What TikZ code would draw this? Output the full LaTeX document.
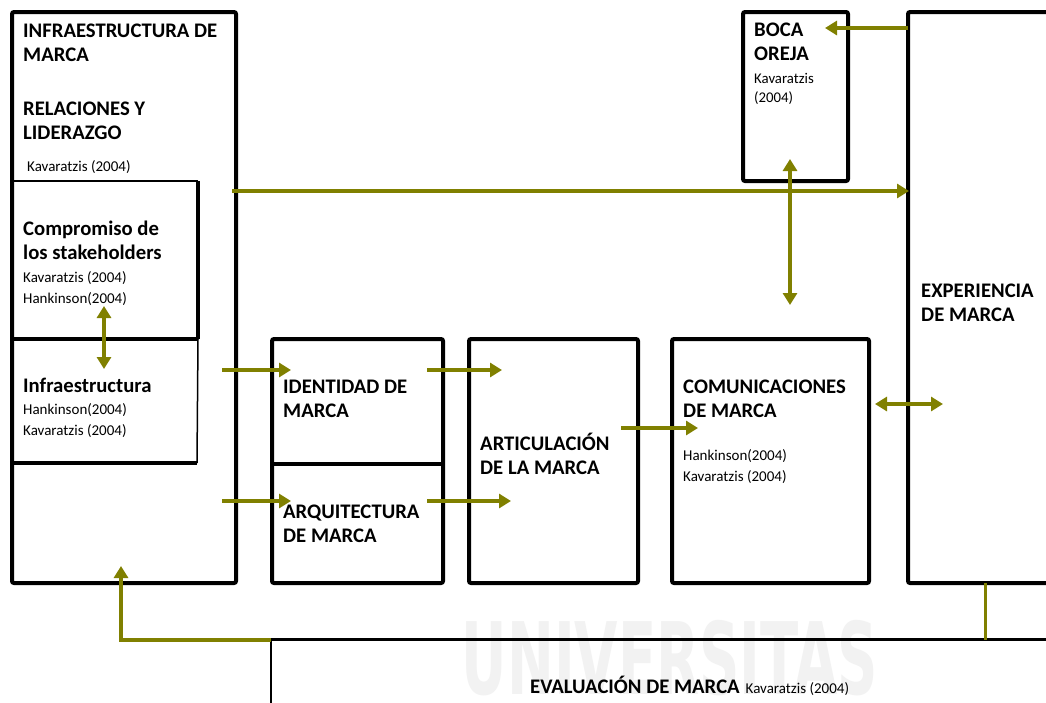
\documentclass[tikz,border=0pt]{standalone}
\usepackage{fontspec}
\setmainfont{Carlito}
\newfontfamily\markfont{DejaVu Sans}
\usetikzlibrary{arrows.meta}
\definecolor{olivec}{RGB}{128,128,0}
\tikzset{
  box/.style={draw, line width=4pt, rounded corners=2pt, inner sep=0pt, outer sep=0pt, anchor=north west},
  lbl/.style={anchor=north west, inner sep=0pt, align=left, font=\bfseries\fontsize{20.7}{24}\selectfont},
  refs/.style={anchor=north west, inner sep=0pt, align=left, font=\fontsize{15}{21.5}\selectfont},
  link/.style={draw=olivec, line width=4pt, -{Triangle[length=12pt,width=14pt]}},
  biglink/.style={draw=olivec, line width=4pt, {Triangle[length=12pt,width=14pt]}-{Triangle[length=12pt,width=14pt]}},
  plain/.style={draw=olivec, line width=3pt},
}
\newcommand{\tl}{\rule{0pt}{18pt}}
\newcommand{\ts}{\rule{0pt}{14pt}}
\begin{document}
\begin{tikzpicture}[x=1pt,y=-1pt]
\useasboundingbox (0,0) rectangle (1046,702);
\fill[white] (0,0) rectangle (1046,702);

% faint watermark behind the lower band
\node[anchor=base, xscale=0.56, text=black!5, inner sep=0pt, text depth=0pt,
      font=\markfont\bfseries\fontsize{100}{100}\selectfont] (mark) at (670,694) {UNIVERSITAS};

% frames
\node[box, minimum width=224pt, minimum height=571pt] (infra) at (12,12) {};
\node[box, minimum width=171pt, minimum height=244pt] (idarq) at (272,339) {};
\node[box, minimum width=169pt, minimum height=244pt] (artic) at (469,339) {};
\node[box, minimum width=197pt, minimum height=244pt] (comun) at (672,339) {};
\node[box, minimum width=105pt, minimum height=169pt] (boca) at (743,12) {};
\coordinate (expTR) at (1050,12);
\coordinate (expBR) at (1050,583);
\draw[line width=4pt, rounded corners=2pt] (expTR) -- (908,12) coordinate (expTL) -- (908,583) coordinate (expBL) -- (expBR);

% split of identity / architecture
\draw[line width=4pt] (idarq.west |- 0,464) coordinate (splitL) -- (idarq.east |- 0,464) coordinate (splitR);

% stakeholder and infrastructure sub-panels
\coordinate (cTL) at (12,181);
\coordinate (cTR) at (198,181);
\coordinate (cBR) at (198,339);
\coordinate (iBR) at (197,463);
\coordinate (iBL) at (12,463);
\draw[line width=1.5pt] (cTL) -- (cTR);
\draw[line width=4pt] (cTR) -- (cBR);
\draw[line width=4pt] (12,339) -- (cBR);
\draw[line width=1.5pt] (cBR) -- (iBR);
\draw[line width=4pt] (iBL) -- (iBR);

% evaluation band
\coordinate (evTR) at (1050,639);
\coordinate (evTL) at (271,639);
\coordinate (evBL) at (271,704);
\draw[line width=3pt] (evTR) -- (evTL);
\draw[line width=2pt] (evTL) -- (evBL);

% texts
\node[lbl] (t1) at (23,19) {\tl INFRAESTRUCTURA DE\\MARCA};
\node[lbl] (t2) at (23,97) {\tl RELACIONES Y\\LIDERAZGO};
\node[refs] (r1) at (27,157) {\ts Kavaratzis (2004)};
\node[lbl] (t3) at (23,217) {\tl Compromiso de\\los stakeholders};
\node[refs] (r2) at (23,268) {\ts Kavaratzis (2004)\\Hankinson(2004)};
\node[lbl] (t4) at (23,374) {\tl Infraestructura};
\node[refs] (r3) at (23,400) {\ts Hankinson(2004)\\Kavaratzis (2004)};
\node[lbl] (t5) at (283,375) {\tl IDENTIDAD DE\\MARCA};
\node[lbl] (t6) at (283,500) {\tl ARQUITECTURA\\DE MARCA};
\node[lbl] (t7) at (480,432) {\tl ARTICULACIÓN\\DE LA MARCA};
\node[lbl] (t8) at (683,375) {\tl COMUNICACIONES\\DE MARCA};
\node[refs] (r4) at (683,446) {\ts Hankinson(2004)\\Kavaratzis (2004)};
\node[lbl] (t9) at (754,18) {\tl BOCA\\OREJA};
\node[refs, font=\fontsize{14.8}{19}\selectfont] (r5) at (754,69) {\ts Kavaratzis\\(2004)};
\node[lbl] (t10) at (921,279) {\tl EXPERIENCIA\\DE MARCA};
\node[anchor=base west, inner sep=0pt] (t11) at (530,693)
  {{\bfseries\fontsize{20.7}{24}\selectfont EVALUACIÓN DE MARCA}\hspace{6pt}{\fontsize{15}{20}\selectfont Kavaratzis (2004)}};

% connector end points
\coordinate (s1) at (104,306); \coordinate (s2) at (104,369);
\coordinate (a1) at (222,370); \coordinate (a2) at (291,370);
\coordinate (b1) at (222,501); \coordinate (b2) at (291,501);
\coordinate (c1) at (232,191); \coordinate (c2) at (909,191);
\coordinate (d1) at (427,370); \coordinate (d2) at (502,370);
\coordinate (e1) at (427,501); \coordinate (e2) at (511,501);
\coordinate (f1) at (621,428); \coordinate (f2) at (698,428);
\coordinate (g1) at (875,404); \coordinate (g2) at (943,404);
\coordinate (h1) at (908,28);  \coordinate (h2) at (825,28);
\coordinate (k1) at (790,159); \coordinate (k2) at (790,305);
\coordinate (m1) at (985,583); \coordinate (m2) at (985,640);
\coordinate (n0) at (271,640); \coordinate (n1) at (121,640); \coordinate (n2) at (121,566);

% connectors
\draw[biglink] (s1) -- (s2);
\draw[link] (a1) -- (a2);
\draw[link] (b1) -- (b2);
\draw[link] (c1) -- (c2);
\draw[link] (d1) -- (d2);
\draw[link] (e1) -- (e2);
\draw[link] (f1) -- (f2);
\draw[biglink] (g1) -- (g2);
\draw[link] (h1) -- (h2);
\draw[biglink] (k1) -- (k2);
\draw[plain] (m1) -- (m2);
\draw[link] (n0) -- (n1) -- (n2);
\end{tikzpicture}
\end{document}
